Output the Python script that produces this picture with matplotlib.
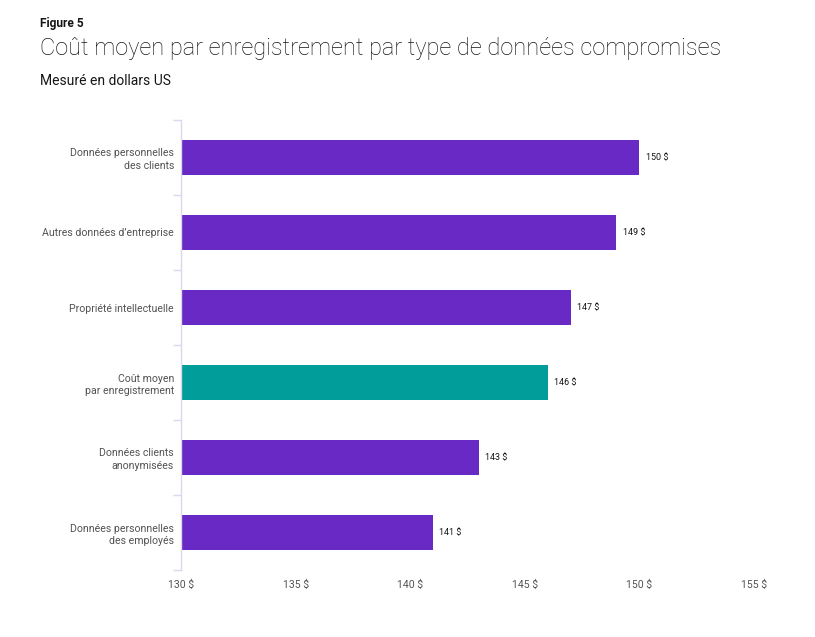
import matplotlib
matplotlib.use("Agg")
import matplotlib.pyplot as plt
import numpy as np

categories = [
    "Données personnelles\ndes clients",
    "Autres données d’entreprise",
    "Propriété intellectuelle",
    "Coût moyen\npar enregistrement",
    "Données clients\nanonymisées",
    "Données personnelles\ndes employés",
]
values = [150, 149, 147, 146, 143, 141]
highlight = [False, False, False, True, False, False]
xticks = [130, 135, 140, 145, 150, 155]
xtick_labels = ["130 $", "135 $", "140 $", "145 $", "150 $", "155 $"]

PURPLE = "#6929C4"
TEAL = "#009D9A"
FONT = ["Roboto", "DejaVu Sans"]
plt.rcParams["font.family"] = FONT

fig = plt.figure(figsize=(8.15, 6.37), dpi=100)
W, H = 815, 637
ax = fig.add_axes([181 / W, (H - 570) / H, 573 / W, 450 / H])

y = np.arange(len(categories))
colors = [TEAL if h else PURPLE for h in highlight]
ax.barh(y, [v - 130 for v in values], left=130, height=0.47, color=colors)
for yi, v in zip(y, values):
    ax.annotate(f"{v} $", (v, yi), xytext=(4.5, 0), textcoords="offset points",
                va="center", ha="left", fontsize=6.5, color="#161616")

ax.set_xlim(130, 155)
ax.set_ylim(len(categories) - 0.5, -0.5)
ax.set_xticks(xticks)
ax.set_xticklabels(xtick_labels, fontsize=7.5, color="#525252")
ax.tick_params(axis="x", length=0, pad=7)
ax.set_yticks(y)
ax.set_yticklabels(categories, fontsize=7.6, color="#525252", linespacing=1.35)
ax.tick_params(axis="y", which="major", length=0, pad=5)
ax.set_yticks(np.arange(-0.5, len(categories), 1.0), minor=True)
ax.tick_params(axis="y", which="minor", length=6, color="#d8d8ef", width=1)

for s in ["top", "right", "bottom"]:
    ax.spines[s].set_visible(False)
ax.spines["left"].set_color("#d8d8ef")
ax.spines["left"].set_linewidth(1)

fig.text(40 / W, 1 - 23 / H, "Figure 5", fontsize=8.6, fontweight="bold",
         color="#161616", va="center", ha="left")
fig.text(40 / W, 1 - 49 / H, "Coût moyen par enregistrement par type de données compromises",
         fontsize=17, fontweight="light", color="#161616", va="center", ha="left")
fig.text(40 / W, 1 - 81 / H, "Mesuré en dollars US", fontsize=10,
         color="#161616", va="center", ha="left")

fig.savefig("out.png", dpi=100)
